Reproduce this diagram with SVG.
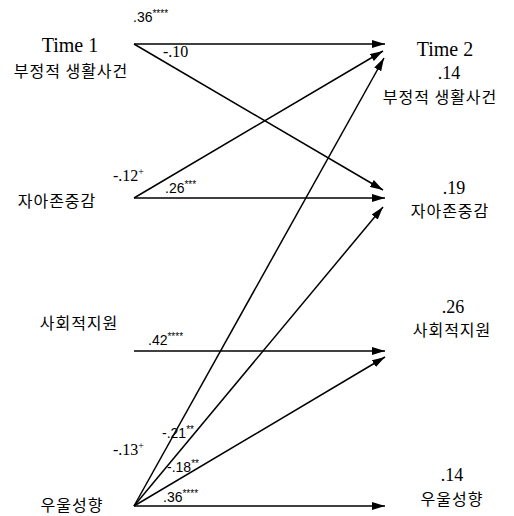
<svg xmlns="http://www.w3.org/2000/svg" width="514" height="516" viewBox="0 0 514 516">
<style>
.kr{font-family:"Noto Sans CJK KR","Noto Sans",sans-serif;font-size:16px;letter-spacing:1px;fill:#000;text-anchor:middle}
.tm{font-family:"Liberation Serif",serif;font-size:20px;fill:#000;text-anchor:middle}
.nm{font-family:"Liberation Serif",serif;font-size:18px;fill:#000;text-anchor:middle}
.cs{font-family:"Liberation Sans",sans-serif;font-size:14px;fill:#000}
.cf{font-family:"Liberation Serif",serif;font-size:16px;fill:#000}
.sup{font-size:10px}
.ln{stroke:#000;stroke-width:1.5;fill:none;marker-end:url(#ah)}
</style>
<defs>
<marker id="ah" markerUnits="userSpaceOnUse" markerWidth="14" markerHeight="8" refX="13" refY="4" orient="auto">
<path d="M0,0 L13,4 L0,8 Z" fill="#000"/>
</marker>
</defs>
<rect width="514" height="516" fill="#fff"/>
<g id="connectors">
<line class="ln" x1="134" y1="44" x2="385" y2="44"/>
<line class="ln" x1="134" y1="44" x2="383" y2="190"/>
<line class="ln" x1="134" y1="198" x2="385" y2="198"/>
<line class="ln" x1="134" y1="198" x2="383" y2="51"/>
<line class="ln" x1="134" y1="351" x2="385" y2="351"/>
<line class="ln" x1="134" y1="506" x2="385" y2="506"/>
<line class="ln" x1="134" y1="506" x2="384" y2="58"/>
<line class="ln" x1="134" y1="506" x2="383" y2="207"/>
<line class="ln" x1="134" y1="506" x2="385" y2="357"/>
<text class="cs" x="133" y="22">.36<tspan class="sup" dy="-5">****</tspan></text>
<text class="cf" x="163" y="57">-.10</text>
<text class="cf" x="113" y="181">-.12<tspan class="sup" dy="-6">+</tspan></text>
<text class="cs" x="165" y="193">.26<tspan class="sup" dy="-5">***</tspan></text>
<text class="cs" x="148" y="345">.42<tspan class="sup" dy="-5">****</tspan></text>
<text class="cf" x="113" y="455">-.13<tspan class="sup" dy="-6">+</tspan></text>
<text class="cs" x="162" y="438">-.21<tspan class="sup" dy="-5">**</tspan></text>
<text class="cs" x="167" y="472">-.18<tspan class="sup" dy="-5">**</tspan></text>
<text class="cs" x="163" y="502">.36<tspan class="sup" dy="-5">****</tspan></text>
</g>
<g id="src-neg-life">
<text class="tm" x="70" y="52">Time 1</text>
<text class="kr" x="71" y="77">부정적 생활사건</text>
</g>
<g id="src-self-esteem">
<text class="kr" x="57" y="207">자아존중감</text>
</g>
<g id="src-social-support">
<text class="kr" x="79" y="329">사회적지원</text>
</g>
<g id="src-depression">
<text class="kr" x="72" y="511">우울성향</text>
</g>
<g id="tgt-neg-life">
<text class="tm" x="445" y="56">Time 2</text>
<text class="nm" x="449" y="79">.14</text>
<text class="kr" x="440" y="103">부정적 생활사건</text>
</g>
<g id="tgt-self-esteem">
<text class="nm" x="454" y="194">.19</text>
<text class="kr" x="450" y="217">자아존중감</text>
</g>
<g id="tgt-social-support">
<text class="nm" x="453" y="313">.26</text>
<text class="kr" x="452" y="336">사회적지원</text>
</g>
<g id="tgt-depression">
<text class="nm" x="452" y="481">.14</text>
<text class="kr" x="452" y="505">우울성향</text>
</g>
</svg>
